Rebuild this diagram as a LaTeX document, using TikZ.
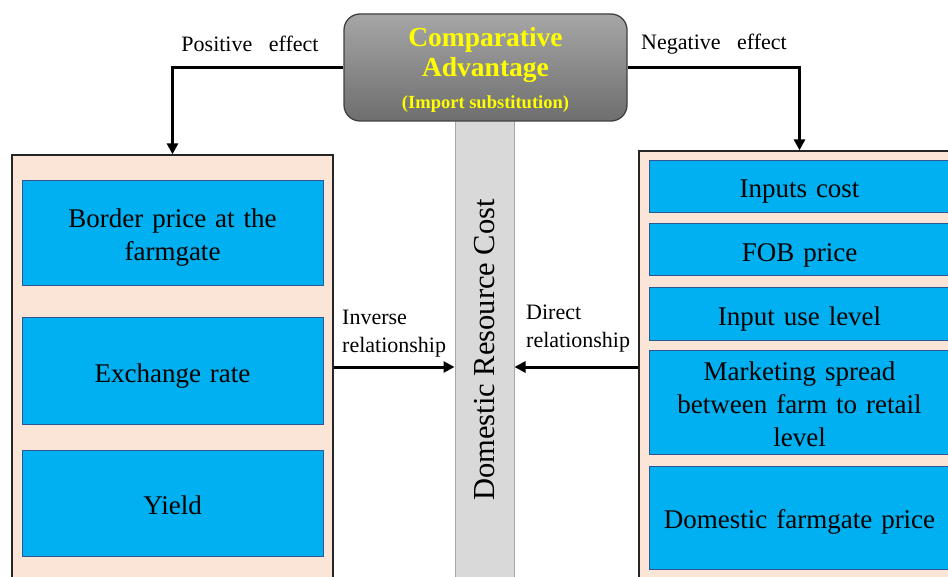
\documentclass[tikz,border=0pt]{standalone}
\usepackage{fontspec}
\setmainfont{Liberation Serif}
\usetikzlibrary{arrows.meta}
\definecolor{panelfill}{HTML}{FBE5D6}
\definecolor{boxfill}{HTML}{00B0F0}
\definecolor{boxline}{HTML}{2F5597}
\definecolor{barfill}{HTML}{D9D9D9}
\definecolor{barline}{HTML}{A6A6A6}
\definecolor{titlecol}{HTML}{FFFF00}
\definecolor{gtop}{HTML}{A6A6A6}
\definecolor{gbot}{HTML}{6E6E6E}
\tikzset{
  panel/.style={draw=black!85, line width=1.3pt, fill=panelfill, minimum width=321pt, inner sep=0pt},
  itembox/.style={draw=boxline, line width=1pt, fill=boxfill, minimum width=301pt, inner sep=0pt},
  itemtxt/.style={text width=292pt, align=center, inner sep=0pt, font=\fontsize{27}{33}\selectfont},
  arr/.style={line width=3pt, -{Triangle[length=11pt,width=11pt]}},
  lbl/.style={font=\fontsize{22}{28}\selectfont, inner sep=0pt},
}
\begin{document}
\begin{tikzpicture}[x=1pt,y=-1pt]
\useasboundingbox (0,0) rectangle (948,577);
\clip (0,0) rectangle (948,577);
\fill[white] (0,0) rectangle (948,577);
% panels
\node[panel, minimum height=430pt] (lp) at (172.5,370) {};
\node[panel, minimum height=434pt] (rp) at (799.5,368) {};
% central bar
\node[draw=barline, line width=1pt, fill=barfill, minimum width=59pt, minimum height=462pt, inner sep=0pt] (drc) at (484.5,352) {};
\node[rotate=90, font=\fontsize{30.5}{34}\selectfont, inner sep=0pt] (drct) at (484.5,350) {Domestic Resource Cost};
% top box
\node[draw=black!75, line width=1.3pt, rounded corners=16pt, top color=gtop, bottom color=gbot,
      minimum width=283pt, minimum height=107pt, inner sep=0pt] (ca) at (485.5,67.5) {};
\node[align=center, text=titlecol, font=\bfseries\fontsize{27.5}{30}\selectfont, inner sep=0pt] (cat) at (485.5,55) {Comparative\\Advantage};
\node[text=titlecol, font=\bfseries\fontsize{18.5}{20}\selectfont, inner sep=0pt] (cas) at (485.5,104) {(Import substitution)};
% left boxes
\node[itembox, minimum height=105pt] (lb1) at (172.5,233.5) {};
\node[itembox, minimum height=106pt] (lb2) at (172.5,371) {};
\node[itembox, minimum height=106pt] (lb3) at (172.5,503) {};
\node[itemtxt] (lb1t) at ([yshift=-4pt]lb1.center) {Border price at the\\farmgate};
\node[itemtxt] (lb2t) at ([yshift=-5pt]lb2.center) {Exchange rate};
\node[itemtxt] (lb3t) at ([yshift=-2pt]lb3.center) {Yield};
% right boxes
\node[itembox, minimum height=52pt] (rb1) at (799.5,187) {};
\node[itembox, minimum height=52pt] (rb2) at (799.5,250) {};
\node[itembox, minimum height=53pt] (rb3) at (799.5,314.5) {};
\node[itembox, minimum height=103pt] (rb4) at (799.5,402.5) {};
\node[itembox, minimum height=103pt] (rb5) at (799.5,517.5) {};
\node[itemtxt] (rb1t) at ([yshift=-5pt]rb1.center) {Inputs cost};
\node[itemtxt] (rb2t) at ([yshift=-5pt]rb2.center) {FOB price};
\node[itemtxt] (rb3t) at ([yshift=-5pt]rb3.center) {Input use level};
\node[itemtxt] (rb4t) at ([yshift=-2pt]rb4.center) {Marketing spread\\between farm to retail\\level};
\node[itemtxt] (rb5t) at ([yshift=-4pt]rb5.center) {Domestic farmgate price};
% connectors
\draw[arr] (ca.west) -| (lp.north);
\draw[arr] (ca.east) -| (rp.north);
\coordinate (rel) at (0,367);
\draw[arr] (lp.east |- rel) -- (drc.west |- rel);
\draw[arr] (rp.west |- rel) -- (drc.east |- rel);
% labels
\node[lbl] (pos) at (250,44) {Positive\hspace{0.75em}effect};
\node[lbl] (neg) at (714,44) {Negative\hspace{0.75em}effect};
\node[lbl, anchor=west, align=left] (inv) at (342,334) {Inverse\\relationship};
\node[lbl, anchor=west, align=left] (dir) at (526,329) {Direct\\relationship};
\end{tikzpicture}
\end{document}
